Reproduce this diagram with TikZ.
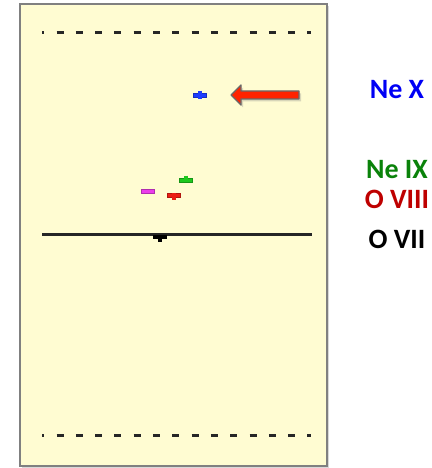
\documentclass[tikz,border=0pt]{standalone}
\usepackage{fontspec}
\setmainfont{Carlito}
\usepackage{tikz}
\usetikzlibrary{shadows}

\begin{document}
\begin{tikzpicture}[x=1pt,y=-1pt,
  bar/.style={draw=#1!75!black,fill=#1,line width=0.5pt,inner sep=0pt,minimum width=13pt,minimum height=4pt},
  tick/.style={#1,line width=3.5pt},
  ion/.style={font=\fontsize{28}{30}\selectfont\bfseries,text=#1,anchor=center,inner sep=0pt},
  level/.style={line width=3pt,color=black!85}]
\useasboundingbox (0,0) rectangle (431,468);
\definecolor{panelColor}{RGB}{255,252,210}
\definecolor{edgeColor}{RGB}{128,128,128}
\fill[black!15] (22,6) rectangle (329,468);
\draw[draw=edgeColor, fill=panelColor, line width=1.2pt] (20,4) rectangle (327,466);
\draw[level,dash pattern=on 7pt off 12.3pt,dash phase=4.8pt] (42,33) -- (311,33);
\draw[level,dash pattern=on 7pt off 12.3pt,dash phase=4.8pt] (42,435) -- (311,435);
\draw[level] (42,234) -- (312,234);
\definecolor{neXColor}{RGB}{30,60,255}
\definecolor{neIXColor}{RGB}{30,200,30}
\definecolor{oVIIIColor}{RGB}{235,30,20}
\definecolor{magColor}{RGB}{235,60,235}
\node[bar=neXColor] (neX) at (200,95) {};
\draw[tick=neXColor] ([yshift=4pt]neX.center) -- ([yshift=-4pt]neX.center);
\node[bar=neIXColor] (neIX) at (186,180) {};
\draw[tick=neIXColor] ([yshift=4.5pt]neIX.center) -- ([yshift=-2pt]neIX.center);
\node[bar=magColor] (mag) at (148,191.5) {};
\node[bar=oVIIIColor] (oVIII) at (174,195) {};
\draw[tick=oVIIIColor] ([yshift=2pt]oVIII.center) -- ([yshift=-4.5pt]oVIII.center);
\node[bar=black,minimum height=3pt] (oVII) at (160,236.5) {};
\draw[tick=black] (oVII.center) -- ([yshift=-5pt]oVII.center);
\definecolor{arrowRed}{RGB}{255,35,0}
\definecolor{arrowEdge}{RGB}{105,105,105}
\coordinate (arrowTail) at (299,95);
\coordinate (arrowTip) at (231,95);
\filldraw[draw=arrowEdge,fill=arrowRed,line width=1.3pt,line join=round,
  drop shadow={opacity=0.3,shadow xshift=2pt,shadow yshift=-2.5pt}]
  ([yshift=4pt]arrowTail) -- ([xshift=10pt,yshift=4pt]arrowTip) -- ([xshift=10pt,yshift=10pt]arrowTip)
  -- (arrowTip) -- ([xshift=10pt,yshift=-10pt]arrowTip) -- ([xshift=10pt,yshift=-4pt]arrowTip)
  -- ([yshift=-4pt]arrowTail) -- cycle;
\definecolor{labBlue}{RGB}{0,0,245}
\definecolor{labGreen}{RGB}{10,130,10}
\definecolor{labRed}{RGB}{190,0,0}
\node[ion=labBlue] (labNeX) at (397,90) {Ne X};
\node[ion=labGreen] (labNeIX) at (397,170) {Ne IX};
\node[ion=labRed] (labOVIII) at (397,199) {O VIII};
\node[ion=black] (labOVII) at (397,239) {O VII};
\end{tikzpicture}
\end{document}
